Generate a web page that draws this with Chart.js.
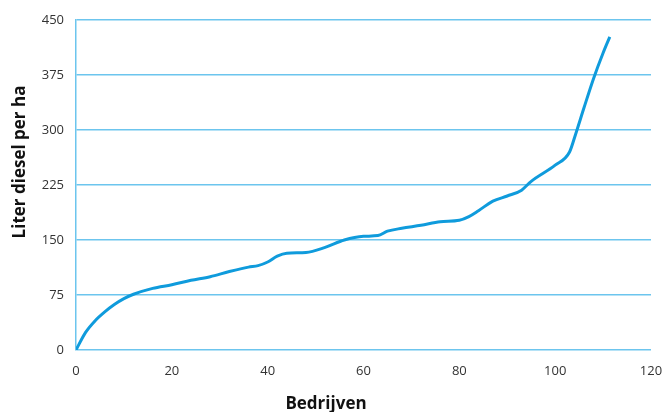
<!DOCTYPE html>
<html lang="nl">
<head>
    <meta charset="UTF-8">
    <title>Liter diesel per ha</title>
    <script src="https://cdn.jsdelivr.net/npm/chart.js"></script>
    <style>
        body { margin: 0; background: #fff; }
        #wrap { width: 662px; height: 412px; position: relative; }
    </style>
</head>
<body>
    <div id="wrap"><canvas id="dieselChart"></canvas></div>
    <script>
        // bedrijven (gesorteerd) en liter diesel per ha
        const bedrijven = [0, 2, 4, 6, 8, 10, 12, 16, 20, 24, 28, 32, 36, 38, 40, 42, 44, 48, 52, 56, 60, 63, 65, 68, 72, 76, 80, 82, 84, 87, 90, 93, 95, 100, 103, 104.3, 106, 108, 110, 111.4];
        const literPerHa = [0, 24, 40, 52, 62, 70, 76, 84, 89, 95, 100, 107, 113, 115, 120, 128, 132, 133, 140, 150, 155, 156, 162, 166, 170, 175, 177, 182, 190, 203, 210, 218, 230, 252, 270, 295, 330, 370, 405, 427];
        const xTicks = [0, 20, 40, 60, 80, 100, 120];
        const yTicks = [0, 75, 150, 225, 300, 375, 450];

        const gridBlue = '#6cc5ee';
        const lineBlue = '#0f9bdc';
        const textColor = '#333333';

        const points = bedrijven.map((b, i) => ({ x: b, y: literPerHa[i] }));

        // axis titles drawn at their spots in the original
        const axisTitles = {
            id: 'axisTitles',
            afterDraw(chart) {
                const c = chart.ctx;
                c.save();
                c.fillStyle = '#111';
                c.font = 'bold 17px "Open Sans"';
                c.textAlign = 'center';
                c.textBaseline = 'middle';
                c.fillText('Bedrijven', 326, 404);
                c.translate(20, 162);
                c.rotate(-Math.PI / 2);
                c.fillText('Liter diesel per ha', 0, 0);
                c.restore();
            }
        };

        new Chart(document.getElementById('dieselChart'), {
            type: 'line',
            data: {
                datasets: [{
                    data: points,
                    borderColor: lineBlue,
                    borderWidth: 3,
                    pointRadius: 0,
                    fill: false,
                    cubicInterpolationMode: 'monotone'
                }]
            },
            options: {
                responsive: true,
                maintainAspectRatio: false,
                animation: false,
                layout: { padding: { top: 20, right: 0, left: 0, bottom: 0 } },
                plugins: {
                    legend: { display: false },
                    tooltip: { enabled: false }
                },
                scales: {
                    x: {
                        type: 'linear',
                        min: 0,
                        max: 120,
                        afterFit: s => { s.height = 62; s.paddingRight = 11; },
                        afterBuildTicks: s => { s.ticks = xTicks.map(v => ({ value: v })); },
                        grid: { display: false, drawTicks: false },
                        border: { display: false },
                        ticks: {
                            padding: 13,
                            color: textColor,
                            font: { family: '"Open Sans"', size: 13 }
                        }
                    },
                    y: {
                        min: 0,
                        max: 450,
                        afterFit: s => { s.width = 76; },
                        afterBuildTicks: s => { s.ticks = yTicks.map(v => ({ value: v })); },
                        grid: { color: gridBlue, lineWidth: 1.5, drawTicks: false },
                        border: { display: true, color: gridBlue, width: 1.5 },
                        ticks: {
                            padding: 12,
                            color: textColor,
                            font: { family: '"Open Sans"', size: 13 }
                        }
                    }
                }
            },
            plugins: [axisTitles]
        });
    </script>
</body>
</html>
